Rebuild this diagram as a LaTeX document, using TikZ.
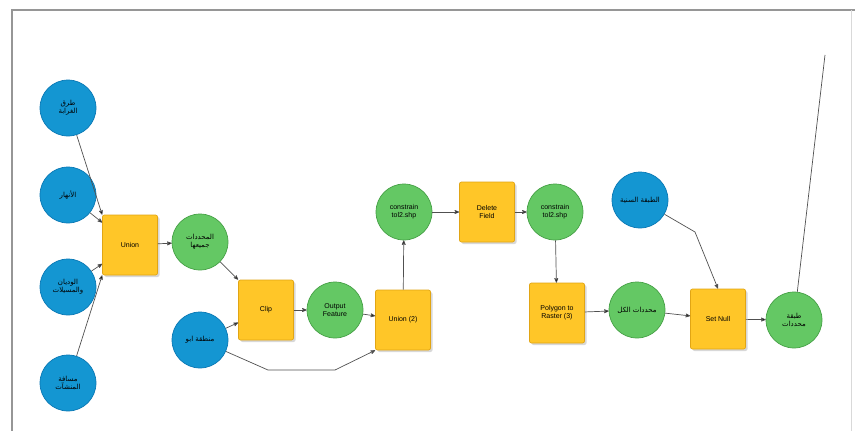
\documentclass[tikz,border=0pt]{standalone}
\usepackage{fontspec}
\setmainfont{Liberation Sans}
\newfontfamily\arabicfont[Script=Arabic]{DejaVu Sans}
\TeXXeTstate=1
\usetikzlibrary{arrows,shadows}
\newcommand\ar[1]{{\arabicfont\beginR #1\endR}}
\definecolor{frame_gray}{RGB}{150,150,150}
\definecolor{edge_gray}{RGB}{80,80,80}
\definecolor{node_blue}{RGB}{20,150,210}
\definecolor{edge_blue}{RGB}{10,120,180}
\definecolor{node_green}{RGB}{100,200,100}
\definecolor{edge_green}{RGB}{70,160,70}
\definecolor{node_yellow}{RGB}{255,198,40}
\definecolor{edge_yellow}{RGB}{225,165,20}

\begin{document}
\begin{tikzpicture}[->,>=stealth',x=1pt,y=-1pt,line width=0.7pt]
    \tikzstyle{node}=[circle, minimum size=56pt, inner sep=1pt, align=center, text=black, font=\fontsize{7}{8}\selectfont]
    \tikzstyle{inp}=[style=node,fill=node_blue,draw=edge_blue]
    \tikzstyle{outp}=[style=node,fill=node_green,draw=edge_green]
    \tikzstyle{tool}=[rectangle, rounded corners=2pt, minimum width=55pt, minimum height=60pt, inner sep=1pt, align=center,
        fill=node_yellow, draw=edge_yellow, text=black, font=\fontsize{7}{8}\selectfont,
        drop shadow={shadow xshift=2pt,shadow yshift=-2pt,fill=gray!60}]
    \tikzstyle{link}=[draw=edge_gray]

    \useasboundingbox (0,0) rectangle (855,431);
    \draw[-,frame_gray,line width=1.5pt] (12,431) -- (12,10) -- (855,10);
    \draw[-,gray!30,line width=0.6pt] (851,10) -- (851,431);

    \node[inp] (roads)  at (68,108)  {\ar{طرق}\\\ar{الغرابة}};
    \node[inp] (rivers) at (68,195)  {\ar{الأنهار}};
    \node[inp] (wadis)  at (68,287)  {\ar{الوديان}\\\ar{والمسيلات}};
    \node[inp] (dist)   at (68,383)  {\ar{مسافة}\\\ar{المنشآت}};
    \node[tool] (union) at (130,245) {Union};
    \node[outp] (cons)  at (200,242) {\ar{المحددات}\\\ar{جميعها}};
    \node[inp] (area)   at (200,340) {\ar{منطقة ابو}};
    \node[tool] (clip)  at (266,310) {Clip};
    \node[outp] (feat)  at (335,310) {Output\\Feature};
    \node[tool] (union2) at (403,320) {Union (2)};
    \node[outp] (ctol)  at (404,212) {constrain\\tol2.shp};
    \node[tool] (delf)  at (487,212) {Delete\\Field};
    \node[outp] (ctol2) at (555,212) {constrain\\tol2.shp};
    \node[tool] (p2r)   at (557,313) {Polygon to\\Raster (3)};
    \node[outp] (rast)  at (637,310) {\ar{محددات الكل}};
    \node[inp] (layer)  at (640,200) {\ar{الطبقة السنية}};
    \node[tool] (snull) at (718,319) {Set Null};
    \node[outp] (final) at (794,320) {\ar{طبقة}\\\ar{محددات}};
    \coordinate (tail) at (825,55);
    \coordinate (bend1) at (268,370);
    \coordinate (bend2) at (335,370);
    \coordinate (bend3) at (695,232);

    \path[link]
     (roads) edge (union.north west)
     (rivers) edge (union)
     (wadis) edge (union)
     (dist) edge (union.south west)
     (union) edge (cons)
     (cons) edge (clip.north west)
     (area) edge (clip)
     (clip) edge (feat)
     (feat) edge (union2)
     (union2) edge (ctol)
     (ctol) edge (delf)
     (delf) edge (ctol2)
     (ctol2) edge (p2r)
     (p2r) edge (rast)
     (rast) edge (snull)
     (snull) edge (final)
     ;
    \draw[link] (area) -- (bend1) -- (bend2) -- (union2.south west);
    \draw[link] (layer) -- (bend3) -- (snull.north);
    \draw[link,-] (final) -- (tail);
\end{tikzpicture}
\end{document}
